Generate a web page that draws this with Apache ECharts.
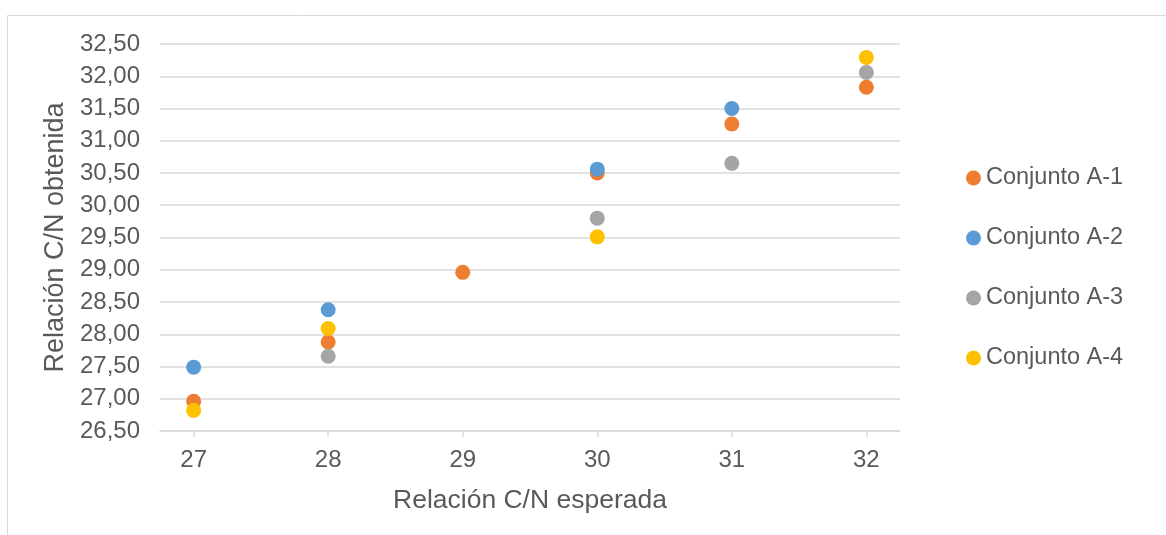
<!DOCTYPE html>
<html>
<head>
<meta charset="utf-8">
<script src="https://cdn.jsdelivr.net/npm/echarts@6/dist/echarts.min.js"></script>
<style>html,body{margin:0;padding:0;background:#fff}#c{width:1166px;height:535px}</style>
</head>
<body>
<div id="c"></div>
<script>
var categories = [27, 28, 29, 30, 31, 32];
var seriesNames = ['Conjunto A-1', 'Conjunto A-2', 'Conjunto A-3', 'Conjunto A-4'];
var a1 = [26.96, 27.88, 28.96, 30.50, 31.26, 31.83];
var a2 = [27.49, 28.38, null, 30.56, 31.50, null];
var a3 = [null, 27.66, null, 29.80, 30.65, 32.06];
var a4 = [26.82, 28.09, null, 29.51, null, 32.29];
var yTicks = [26.5, 27, 27.5, 28, 28.5, 29, 29.5, 30, 30.5, 31, 31.5, 32, 32.5];
var colors = ['#ED7D31', '#5B9BD5', '#A5A5A5', '#FFC000'];

var all = [a1, a2, a3, a4];
var chart = echarts.init(document.getElementById('c'));
var txt = '#595959';
var font = 'Liberation Sans, Arial, sans-serif';
chart.setOption({
  animation: false,
  color: colors,
  textStyle: {fontFamily: font, color: txt},
  graphic: [{type: 'rect', shape: {x: 7.5, y: 15.5, width: 1300, height: 700}, style: {fill: 'none', stroke: '#D9D9D9', lineWidth: 1}, z: -10}],
  grid: {left: 160, right: 266, top: 44, bottom: 104},
  legend: {
    orient: 'vertical', left: 966, top: 166, padding: 0, itemGap: 36, itemWidth: 15, itemHeight: 15,
    icon: 'circle', data: seriesNames,
    textStyle: {fontSize: 23.5, color: txt, fontFamily: font, lineHeight: 24}
  },
  xAxis: {
    type: 'value', min: 26.75, max: 32.25,
    name: 'Relación C/N esperada', nameLocation: 'middle', nameGap: 56,
    nameTextStyle: {fontSize: 26.5, color: txt, fontFamily: font},
    axisLine: {show: true, lineStyle: {color: '#D9D9D9', width: 1.5}},
    axisTick: {show: true, customValues: categories, length: 6, lineStyle: {color: '#D9D9D9', width: 1.5}},
    axisLabel: {customValues: categories, fontSize: 24, color: txt, margin: 17, fontFamily: font},
    splitLine: {show: false}
  },
  yAxis: {
    type: 'value', min: yTicks[0], max: yTicks[yTicks.length - 1], interval: 0.5,
    name: 'Relación C/N obtenida', nameLocation: 'middle', nameGap: 90,
    nameTextStyle: {fontSize: 27, color: txt, fontFamily: font},
    axisLine: {show: false}, axisTick: {show: false},
    axisLabel: {fontSize: 24, color: txt, margin: 20, fontFamily: font,
      formatter: function (v) { return v.toFixed(2).replace('.', ','); }},
    splitLine: {lineStyle: {color: '#D9D9D9', width: 1.5}}
  },
  series: seriesNames.map(function (n, i) {
    return {
      name: n, type: 'scatter', symbolSize: 15,
      itemStyle: {color: colors[i], opacity: 1},
      data: categories.map(function (c, j) { return all[i][j] == null ? null : [c, all[i][j]]; }).filter(function (d) { return d; })
    };
  })
});
</script>
</body>
</html>
